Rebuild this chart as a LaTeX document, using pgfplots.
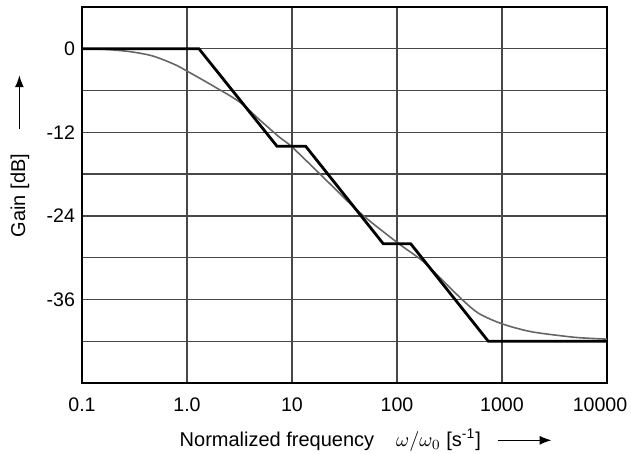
\documentclass[border=0pt]{standalone}
\usepackage{pgfplots}
\pgfplotsset{compat=1.18}
\usetikzlibrary{arrows.meta}
\usepackage{fontspec}
\setmainfont{Liberation Sans}
\newcommand{\longarrow}{\tikz[baseline=-0.55ex]\draw[-{Latex[length=6pt,width=4.5pt]}, line width=0.7pt] (0,0)--(27pt,0);}
\begin{document}
\begin{tikzpicture}
\begin{axis}[
    name=ax,
    scale only axis,
    width=262.5pt,
    height=188pt,
    xmode=log,
    xmin=0.1, xmax=10000,
    ymin=-48, ymax=6,
    xtick={0.1,1,10,100,1000,10000},
    xticklabels={0.1,1.0,10,100,1000,\hspace*{-7pt}10000},
    ytick={-36,-24,-12,0},
    yticklabels={-36,-24,-12,0},
    minor ytick={-42,-30,-18,-6},
    xmajorgrids, ymajorgrids, yminorgrids,
    major tick length=0pt,
    minor tick length=0pt,
    axis line style={black, line width=1.1pt},
    major grid style={line width=0.7pt, black!72},
    minor grid style={line width=0.7pt, black!72},
    tick label style={font=\fontsize{9.8}{11}\selectfont},
    xticklabel style={yshift=-4pt},
    label style={font=\fontsize{10.4}{12}\selectfont},
    xlabel={Normalized frequency\hspace{11pt}$\omega/\omega_0$\ [s\textsuperscript{-1}]\hspace{8pt}\longarrow},
    ylabel={Gain [dB]\hspace{12pt}\longarrow},
    every axis x label/.style={at={(axis description cs:0.541,-0.152)}, anchor=center},
    every axis y label/.style={at={(axis description cs:-0.118,0.604)}, anchor=center, rotate=90},
]
% continuous response
\addplot[mark=none, color=black!60, line width=0.8pt, smooth] coordinates {
    (0.1,0) (0.15,-0.06) (0.2,-0.17) (0.3,-0.45) (0.45,-0.95) (0.6,-1.6) (0.8,-2.4) (1.0,-3.2)
    (1.5,-4.7) (2.0,-5.8) (2.6,-6.8) (3.4,-8.0) (5,-10.3) (7.6,-12.7)
    (10,-14.1) (20,-18.5) (44,-23.5) (100,-27.8) (173,-30.4) (250,-32.7)
    (416,-36.0) (600,-38.0) (1000,-39.5) (1850,-40.6) (3570,-41.2)
    (5500,-41.5) (10000,-41.7)
};
% stepped approximation
\addplot[mark=none, color=black, line width=1.4pt] coordinates {
    (0.1,0) (1.3,0) (7.2,-14) (13.5,-14) (74,-28) (135,-28) (740,-42) (10000,-42)
};
\end{axis}
\pgfresetboundingbox
\path ([xshift=-41pt,yshift=3.5pt]ax.north west) rectangle ([xshift=12pt,yshift=-35.5pt]ax.south east);
\end{tikzpicture}
\end{document}
